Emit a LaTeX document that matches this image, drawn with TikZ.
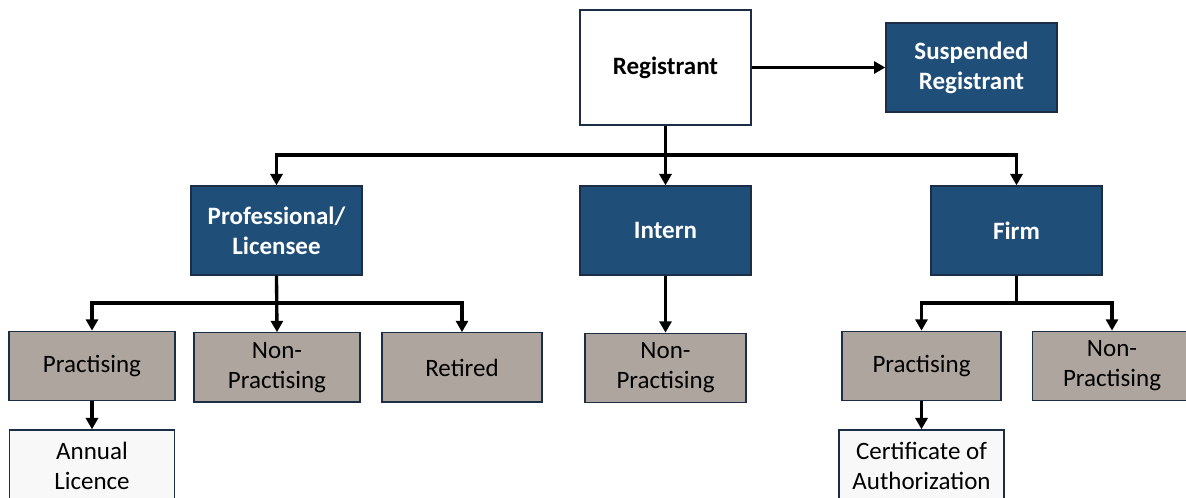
\documentclass[tikz,border=0pt]{standalone}
\usepackage{fontspec}
\setmainfont{Carlito}
\usetikzlibrary{arrows.meta}
\definecolor{navy}{HTML}{1F4E79}
\definecolor{edge}{HTML}{1C2E45}
\definecolor{taupe}{HTML}{AFA59F}
\definecolor{offwhite}{HTML}{F8F8F8}
\begin{document}
\begin{tikzpicture}[x=0.75pt,y=-0.75pt,
  box/.style={draw=edge,line width=1pt,inner sep=0pt,align=center,
    font=\fontsize{18.75}{22.5}\selectfont},
  bluebox/.style={box,fill=navy,text=white,font=\fontsize{18.75}{22.5}\selectfont\bfseries,
    minimum width=128.25pt,minimum height=66.75pt},
  greybox/.style={box,fill=taupe,text=black,minimum height=52pt},
  leafbox/.style={box,fill=offwhite,text=black,minimum height=54pt},
  arr/.style={line width=2.5pt,-{Triangle[length=8.5pt,width=9pt]}},
  ln/.style={line width=2.5pt}]
\useasboundingbox (0,0) rectangle (1186,498);
\clip (0,0) rectangle (1186,498);
\node[box,fill=white,font=\fontsize{18.75}{22.5}\selectfont\bfseries,
  minimum width=128.25pt,minimum height=86.25pt] (reg) at (665.5,67.5) {Registrant};
\node[bluebox] (susp) at (971.5,67.5) {Suspended\\Registrant};
\node[bluebox] (prof) at (276.5,230.5) {Professional/\\Licensee};
\node[bluebox] (intern) at (665.5,230.5) {Intern};
\node[bluebox] (firm) at (1016.5,230.5) {Firm};
\node[greybox,minimum width=124.5pt] (pp) at (92,366) {Practising};
\node[greybox,minimum width=124.5pt] (pnp) at (277,367.5) {Non-\\Practising};
\node[greybox,minimum width=120pt] (pr) at (462,367.5) {Retired};
\node[greybox,minimum width=120.75pt] (inp) at (665.5,368) {Non-\\Practising};
\node[greybox,minimum width=119.25pt] (fp) at (921.5,366) {Practising};
\node[greybox,minimum width=119.25pt] (fnp) at (1112,366) {Non-\\Practising};
\node[leafbox,minimum width=123.75pt] (al) at (92,466) {Annual\\Licence};
\node[leafbox,minimum width=123.75pt] (ca) at (921.5,466) {Certificate of\\Authorization};
\coordinate (b1) at (665.5,155);
\coordinate (b2) at (277,303);
\coordinate (b3) at (1016.5,303);
\draw[arr] (reg.east) -- (susp.west);
\draw[arr] (reg.south) -- (intern.north);
\draw[arr] (b1) -| (prof.north);
\draw[arr] (b1) -| (firm.north);
\draw[arr] (prof.south) -- (pnp.north);
\draw[arr] (b2) -| (pp.north);
\draw[arr] (b2) -| (pr.north);
\draw[arr] (intern.south) -- (inp.north);
\draw[ln] (firm.south) -- (b3);
\draw[arr] (b3) -| (fp.north);
\draw[arr] (b3) -| (fnp.north);
\draw[arr] (pp.south) -- (al.north);
\draw[arr] (fp.south) -- (ca.north);
\end{tikzpicture}
\end{document}
